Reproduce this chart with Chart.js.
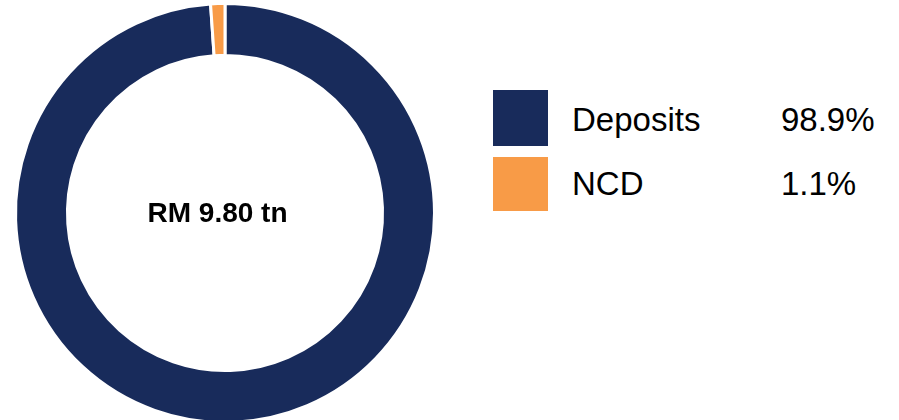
<!DOCTYPE html>
<html>
<head>
<meta charset="utf-8">
<script src="https://cdn.jsdelivr.net/npm/chart.js@4"></script>
<style>
  body { margin: 0; width: 899px; height: 420px; overflow: hidden; background: #fff; font-family: "Liberation Sans", Arial, sans-serif; }
  #wrap { position: absolute; left: 0; top: 0; width: 450px; height: 426px; }
  #centre { position: absolute; left: 0; top: 197px; width: 435px; text-align: center; font-weight: bold; font-size: 28px; color: #000; }
  .sw { position: absolute; left: 493px; width: 55px; }
  .lab { position: absolute; left: 572px; font-size: 33px; color: #000; }
  .val { position: absolute; left: 781px; font-size: 33px; color: #000; }
</style>
</head>
<body>
<div id="wrap"><canvas id="myChart" width="450" height="426"></canvas></div>
<div id="centre"></div>
<div id="legend"></div>
<script>
const labels = ['Deposits', 'NCD'];
const shares = [98.9, 1.1];
const colours = ['#182B5B', '#F89B47'];
const centreText = 'RM 9.80 tn';

document.getElementById('centre').textContent = centreText;

// legend built by hand, right of the ring
const swatchTops = [90, 157];
const swatchHeights = [56, 54];
const textTops = [101, 165];
const legend = document.getElementById('legend');
labels.forEach(function (name, i) {
  legend.innerHTML +=
    '<div class="sw" style="top:' + swatchTops[i] + 'px;height:' + swatchHeights[i] + 'px;background:' + colours[i] + '"></div>' +
    '<div class="lab" style="top:' + textTops[i] + 'px">' + name + '</div>' +
    '<div class="val" style="top:' + textTops[i] + 'px">' + shares[i].toFixed(1) + '%</div>';
});

const ctx = document.getElementById('myChart').getContext('2d');
const myChart = new Chart(ctx, {
  type: 'doughnut',
  data: {
    labels: labels,
    datasets: [{
      data: shares,
      backgroundColor: colours,
      borderColor: '#ffffff',
      borderWidth: 3
    }]
  },
  options: {
    responsive: false,
    animation: false,
    cutout: '75.2%',
    layout: { padding: { top: 2, bottom: 2, left: 14, right: 14 } },
    plugins: {
      legend: { display: false },
      tooltip: { enabled: false }
    }
  }
});
</script>
</body>
</html>
